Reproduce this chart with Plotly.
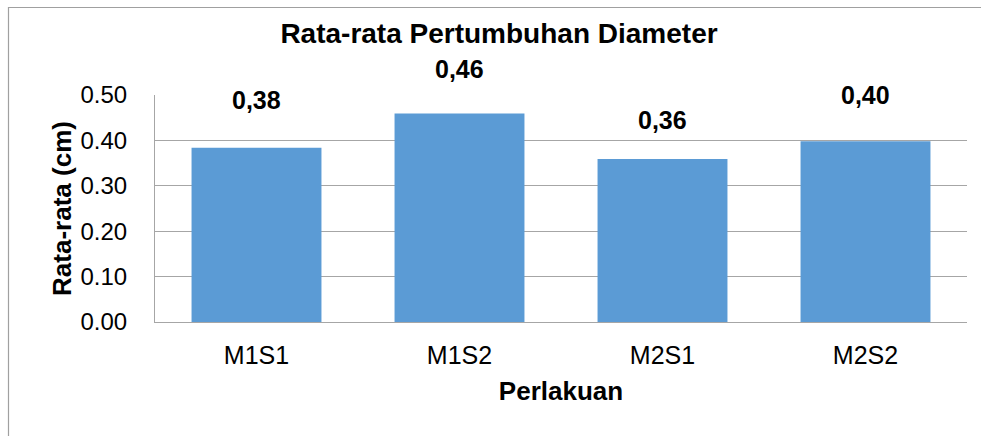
import plotly.graph_objects as go

categories = ["M1S1", "M1S2", "M2S1", "M2S2"]
values = [0.384, 0.459, 0.359, 0.398]
label_offsets = [0.104, 0.099, 0.086, 0.101]  # vertical placement of data labels above bars
y_ticks = [0.0, 0.1, 0.2, 0.3, 0.4, 0.5]
y_max = 0.5

FONT = "Liberation Sans, Arial, sans-serif"
BAR = "#5B9BD5"
GRID = "#A6A6A6"

W, H = 981, 436
L, R, T, B = 155, 14, 95, 114

fig = go.Figure()
fig.add_trace(go.Bar(
    x=categories, y=values, marker=dict(color=BAR, line=dict(width=0)),
    hoverinfo="skip", showlegend=False,
))

for c, v, off in zip(categories, values, label_offsets):
    fig.add_annotation(
        x=c, y=(v + off) / y_max, xref="x", yref="paper",
        text="<b>" + f"{v:.2f}".replace(".", ",") + "</b>",
        showarrow=False, yanchor="middle", xanchor="center",
        font=dict(family=FONT, size=25, color="black"),
    )

pw = W - L - R
ph = H - T - B
def px_to_paper_x(px):
    return (px - L) / pw
def px_to_paper_y(py):
    return (H - B - py) / ph

# outer chart border (left & top visible, right/bottom cropped)
fig.add_shape(type="rect", xref="paper", yref="paper",
              x0=px_to_paper_x(8.5), x1=px_to_paper_x(W + 5),
              y0=px_to_paper_y(H + 5), y1=px_to_paper_y(7.5),
              line=dict(color="#A0A0A0", width=1.2), fillcolor="rgba(0,0,0,0)", layer="below")

fig.update_layout(
    width=W, height=H,
    margin=dict(l=L, r=R, t=T, b=B, pad=0),
    paper_bgcolor="white", plot_bgcolor="white",
    bargap=0.36,
    title=dict(text="<b>Rata-rata Pertumbuhan Diameter</b>", x=499 / W, xref="container",
               xanchor="center", y=1 - 33 / H, yanchor="middle",
               font=dict(family=FONT, size=28, color="black")),
    font=dict(family=FONT, color="black"),
    xaxis=dict(
        showline=True, linecolor=GRID, linewidth=1, showgrid=False,
        tickfont=dict(family=FONT, size=25, color="black"),
        ticks="", ticklabelstandoff=11,
        title=dict(text="<b>Perlakuan</b>", font=dict(family=FONT, size=26, color="black"), standoff=13),
        fixedrange=True,
    ),
    yaxis=dict(
        range=[0, y_max], tickvals=y_ticks, tickformat=".2f",
        showline=True, linecolor=GRID, linewidth=1,
        showgrid=True, gridcolor=GRID, gridwidth=1, zeroline=False,
        tickfont=dict(family=FONT, size=24, color="black"),
        ticks="", ticklabelstandoff=22,
        title=dict(text="<b>Rata-rata (cm)</b>", font=dict(family=FONT, size=26, color="black"), standoff=1),
        fixedrange=True,
    ),
)

fig.write_html("out.html", config={"displayModeBar": False},
               post_script="document.body.style.margin='0';document.body.style.overflow='hidden';")
